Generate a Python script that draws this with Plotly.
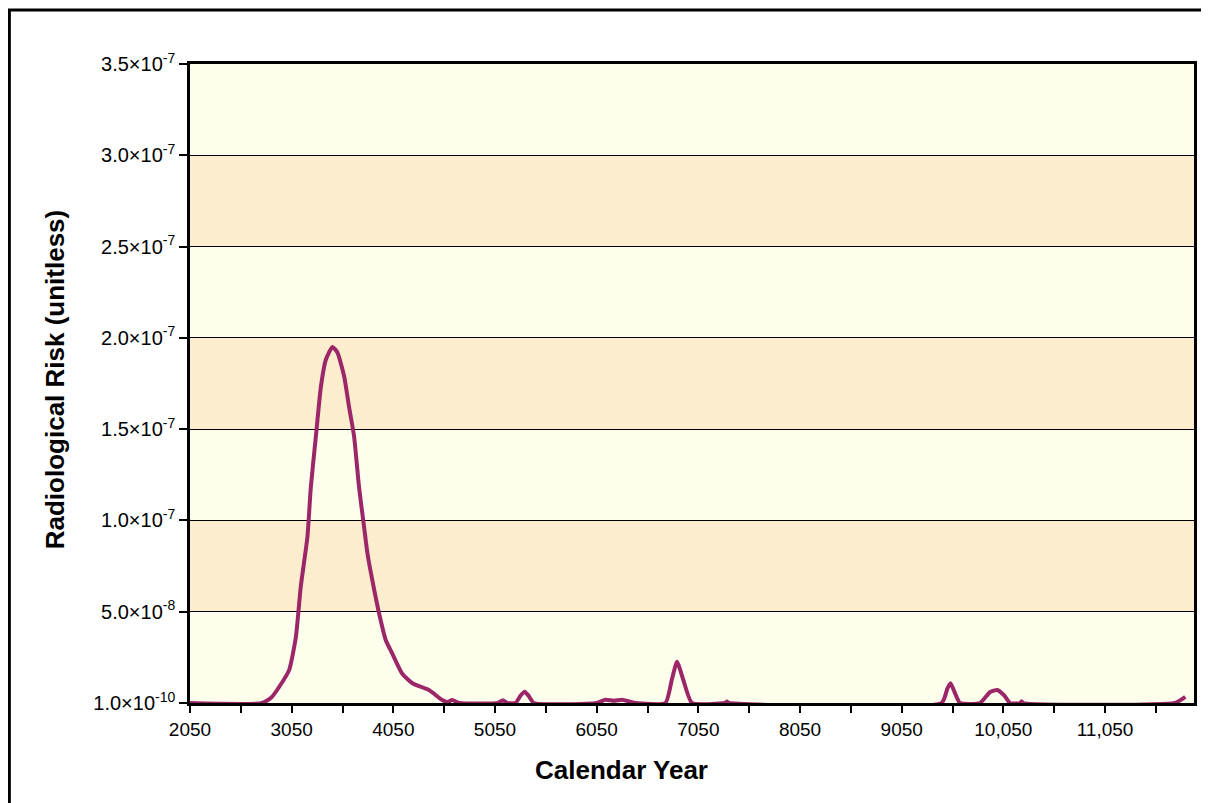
import plotly.graph_objects as go

# ---- data ----
years = [2050, 2760, 2850, 2928, 3025, 3091, 3140, 3205, 3238, 3288, 3337, 3386,
         3451, 3500, 3566, 3615, 3664, 3713, 3762, 3795, 3844, 3910, 3975, 4040,
         4138, 4237, 4400, 4531, 4580, 4630, 4700,
         5080, 5127, 5170, 5252, 5300, 5341, 5380, 5432,
         6050, 6136, 6220, 6300, 6430,
         6726, 6790, 6840, 6900, 6987,
         7310, 7331, 7350,
         9443, 9500, 9531, 9570, 9623,
         9820, 9920, 9990, 10060, 10115,
         10215, 10229, 10245,
         11736, 11840]
risk = [0, 0, 0.3e-8, 0.89e-8, 1.8e-8, 3.6e-8, 6.4e-8, 9.1e-8, 11.8e-8, 14.6e-8, 17.3e-8, 18.8e-8,
        19.5e-8, 19.2e-8, 17.9e-8, 16.2e-8, 14.6e-8, 11.8e-8, 9.65e-8, 8.2e-8, 6.7e-8, 4.9e-8, 3.45e-8, 2.7e-8,
        1.6e-8, 1.08e-8, 0.71e-8, 0.16e-8, 0.05e-8, 0.16e-8, 0,
        0, 0.15e-8, 0, 0, 0.4e-8, 0.62e-8, 0.4e-8, 0,
        0, 0.18e-8, 0.12e-8, 0.18e-8, 0,
        0, 1.3e-8, 2.26e-8, 1.3e-8, 0,
        0, 0.08e-8, 0,
        0, 0.8e-8, 1.08e-8, 0.6e-8, 0,
        0, 0.6e-8, 0.71e-8, 0.4e-8, 0,
        0, 0.1e-8, 0,
        0, 0.34e-8]

x_tickvals = [2050, 3050, 4050, 5050, 6050, 7050, 8050, 9050, 10050, 11050]
x_ticktext = ["2050", "3050", "4050", "5050", "6050", "7050", "8050", "9050", "10,050", "11,050"]
x_minor = [2550, 3550, 4550, 5550, 6550, 7550, 8550, 9550, 10550, 11550]

y_tickvals = [0, 5e-8, 1e-7, 1.5e-7, 2e-7, 2.5e-7, 3e-7, 3.5e-7]
y_ticktext = ["1.0×10<sup>-10</sup>", "5.0×10<sup>-8</sup>", "1.0×10<sup>-7</sup>", "1.5×10<sup>-7</sup>",
              "2.0×10<sup>-7</sup>", "2.5×10<sup>-7</sup>", "3.0×10<sup>-7</sup>", "3.5×10<sup>-7</sup>"]

band_colors = ["#FEFEEC", "#FDEDCF"]

# ---- layout geometry (page has an 8px body margin) ----
OFF = 8
W, H = 1209 - OFF, 803 - OFF
L, R, T, B = 190 - OFF, 13, 64 - OFF, 100
pw, ph = W - L - R, H - T - B

def px_x(p):  # page pixel -> paper fraction
    return (p - OFF - L) / pw

def px_y(p):
    return (H - B - (p - OFF)) / ph

fig = go.Figure()
fig.add_trace(go.Scatter(x=years, y=risk, mode="lines",
                         line=dict(color="#9C2768", width=4, shape="spline", smoothing=0.5),
                         hoverinfo="x+y", showlegend=False))

shapes = []
for i in range(len(y_tickvals) - 1):
    shapes.append(dict(type="rect", xref="paper", yref="y", x0=0, x1=1,
                       y0=y_tickvals[i], y1=y_tickvals[i + 1],
                       fillcolor=band_colors[i % 2], line=dict(width=0), layer="below"))
# outer frame
shapes.append(dict(type="rect", xref="paper", yref="paper",
                   x0=px_x(9), x1=px_x(1230), y0=px_y(830), y1=px_y(10),
                   line=dict(color="black", width=3), fillcolor="rgba(0,0,0,0)"))

fig.update_layout(
    width=W, height=H,
    margin=dict(l=L, r=R, t=T, b=B),
    paper_bgcolor="white", plot_bgcolor="#FEFEEC",
    font=dict(family="Liberation Sans, Arial, sans-serif", color="black", size=20),
    shapes=shapes,
    annotations=[
        dict(text="<b>Calendar Year</b>", xref="paper", yref="paper",
             x=px_x(622), y=px_y(770), xanchor="center", yanchor="middle",
             showarrow=False, font=dict(size=26)),
        dict(text="<b>Radiological Risk (unitless)</b>", xref="paper", yref="paper",
             x=px_x(55), y=px_y(379), xanchor="center", yanchor="middle",
             textangle=-90, showarrow=False, font=dict(size=26)),
    ],
)
fig.update_xaxes(range=[2050, 11925], tickvals=x_tickvals, ticktext=x_ticktext,
                 ticks="outside", ticklen=7, tickwidth=2, tickcolor="black",
                 minor=dict(tickvals=x_minor, ticks="outside", ticklen=7, tickwidth=2, tickcolor="black"),
                 showgrid=False, zeroline=False, showline=True, linecolor="black", linewidth=2.5,
                 mirror=True, tickfont=dict(size=19))
fig.update_yaxes(range=[0, 3.5e-7], tickvals=y_tickvals, ticktext=y_ticktext,
                 ticks="outside", ticklen=8, tickwidth=2, tickcolor="black",
                 showgrid=True, gridcolor="black", gridwidth=1, layer="below traces",
                 zeroline=False, showline=True, linecolor="black", linewidth=2.5,
                 mirror=True, tickfont=dict(size=20))

fig.write_html("out.html")
